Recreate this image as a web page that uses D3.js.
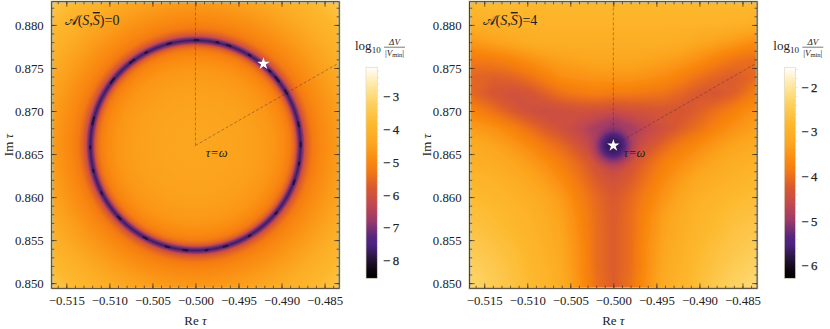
<!DOCTYPE html>
<html>
<head>
<meta charset="utf-8">
<script src="https://d3js.org/d3.v7.min.js"></script>
<style>
  body { margin: 0; background: #fff; }
  text { font-family: "Liberation Serif", "DejaVu Serif", serif; fill: #222; }
  .axis path { display: none; }
</style>
</head>
<body>
<script>
// tick labels
var reTicks = [-0.515, -0.510, -0.505, -0.500, -0.495, -0.490, -0.485];
var imTicks = [0.850, 0.855, 0.860, 0.865, 0.870, 0.875, 0.880];
var barTicksA = [-8, -7, -6, -5, -4, -3];
var barTicksB = [-6, -5, -4, -3, -2];

// colour bar, fraction -> colour
var mapStops = [0, 0.04, 0.10, 0.157, 0.195, 0.275, 0.355, 0.43, 0.51, 0.56, 0.64, 0.735, 0.83, 0.89, 0.955, 1];
var mapColors = ["#000000", "#0c0610", "#2a1640", "#4a2180", "#57257f", "#9c3a6a", "#c4494e", "#d9592f",
                 "#f47a12", "#fa8a10", "#fca61f", "#fdb92f", "#fdd160", "#ffe28f", "#fff2cc", "#ffffff"];

// left panel: value against distance from tau=omega
var ringRadius = [0, 0.004, 0.007, 0.009, 0.0103, 0.011, 0.0114, 0.0117, 0.0119, 0.0122, 0.0125, 0.0127, 0.0131, 0.0136, 0.0145, 0.0167, 0.019, 0.0215, 0.0236];
var ringValue = [-4.42, -4.45, -4.55, -4.72, -4.95, -5.2, -5.5, -6.0, -6.9, -7.7, -6.9, -6.1, -5.6, -5.25, -5.0, -4.6, -4.2, -3.85, -3.45];
// darker patches along the ring, degrees clockwise from the top
var darkArcStart = [-1, 11, 17, 30, 44, 49, 58, 77, 88, 99, 109, 129, 148, 162, 173, 184, 194, 207, 225, 242, 255, 268, 281, 306, 321, 331, 344];
var darkArcEnd = [2, 13, 20, 32, 46, 53, 61, 80, 91, 101, 112, 131, 150, 165, 175, 187, 197, 210, 228, 244, 257, 270, 286, 310, 325, 333, 347];
var darkArcValue = -8.0;

// right panel: values on a grid, x -0.518..-0.482, y 0.884..0.848, step 0.002
var gridRe = [-0.518, -0.516, -0.514, -0.512, -0.510, -0.508, -0.506, -0.504, -0.502, -0.500, -0.498, -0.496, -0.494, -0.492, -0.490, -0.488, -0.486, -0.484, -0.482];
var gridIm = [0.884, 0.882, 0.880, 0.878, 0.876, 0.874, 0.872, 0.870, 0.868, 0.866, 0.864, 0.862, 0.860, 0.858, 0.856, 0.854, 0.852, 0.850, 0.848];
var gridValues = [
  -2.70, -2.70, -2.70, -2.72, -2.72, -2.75, -2.75, -2.78, -2.80, -2.80, -2.80, -2.78, -2.75, -2.75, -2.72, -2.72, -2.70, -2.68, -2.65,
  -2.85, -2.85, -2.82, -2.82, -2.85, -2.85, -2.85, -2.85, -2.85, -2.85, -2.85, -2.85, -2.85, -2.85, -2.85, -2.85, -2.85, -2.85, -2.85,
  -3.10, -3.05, -3.00, -2.95, -2.95, -2.95, -2.95, -2.95, -2.95, -2.95, -2.95, -2.95, -2.95, -2.95, -2.95, -2.95, -3.00, -3.05, -3.10,
  -3.50, -3.40, -3.30, -3.20, -3.10, -3.05, -3.05, -3.05, -3.05, -3.05, -3.05, -3.05, -3.05, -3.10, -3.20, -3.30, -3.40, -3.55, -3.60,
  -3.85, -3.85, -3.80, -3.70, -3.55, -3.40, -3.30, -3.25, -3.20, -3.20, -3.20, -3.25, -3.30, -3.40, -3.55, -3.75, -3.90, -4.00, -4.00,
  -4.00, -4.10, -4.15, -4.10, -3.95, -3.75, -3.55, -3.50, -3.45, -3.45, -3.45, -3.50, -3.60, -3.75, -3.95, -4.10, -4.20, -4.10, -3.90,
  -3.90, -4.10, -4.30, -4.40, -4.35, -4.15, -3.95, -3.85, -3.80, -3.85, -3.85, -3.90, -3.95, -4.10, -4.25, -4.30, -4.15, -3.85, -3.70,
  -3.60, -3.75, -3.95, -4.20, -4.40, -4.50, -4.45, -4.40, -4.40, -4.50, -4.40, -4.35, -4.30, -4.30, -4.15, -3.95, -3.75, -3.55, -3.45,
  -3.30, -3.40, -3.50, -3.70, -3.95, -4.20, -4.40, -4.60, -4.90, -5.20, -4.90, -4.60, -4.40, -4.15, -3.95, -3.70, -3.50, -3.35, -3.25,
  -3.10, -3.15, -3.25, -3.40, -3.60, -3.85, -4.05, -4.35, -4.70, -5.30, -4.70, -4.35, -4.05, -3.80, -3.60, -3.40, -3.25, -3.15, -3.10,
  -3.00, -3.05, -3.10, -3.20, -3.35, -3.55, -3.80, -4.05, -4.40, -4.70, -4.40, -4.05, -3.75, -3.55, -3.35, -3.20, -3.05, -3.00, -2.95,
  -2.85, -2.90, -2.95, -3.05, -3.20, -3.35, -3.60, -3.90, -4.20, -4.40, -4.20, -3.90, -3.60, -3.35, -3.15, -3.05, -2.95, -2.85, -2.80,
  -2.75, -2.80, -2.85, -2.95, -3.05, -3.20, -3.40, -3.75, -4.05, -4.25, -4.05, -3.75, -3.45, -3.20, -3.00, -2.90, -2.80, -2.75, -2.70,
  -2.65, -2.70, -2.75, -2.85, -2.95, -3.10, -3.30, -3.65, -4.00, -4.22, -4.00, -3.65, -3.30, -3.10, -2.90, -2.80, -2.70, -2.65, -2.60,
  -2.55, -2.60, -2.70, -2.80, -2.90, -3.05, -3.25, -3.60, -4.00, -4.20, -4.00, -3.60, -3.25, -3.05, -2.85, -2.75, -2.60, -2.55, -2.50,
  -2.45, -2.50, -2.60, -2.70, -2.85, -3.00, -3.20, -3.55, -4.00, -4.20, -4.00, -3.55, -3.20, -3.00, -2.80, -2.65, -2.55, -2.45, -2.40,
  -2.35, -2.40, -2.50, -2.65, -2.80, -2.95, -3.15, -3.55, -4.00, -4.20, -4.00, -3.55, -3.15, -2.95, -2.75, -2.60, -2.45, -2.35, -2.30,
  -2.25, -2.30, -2.45, -2.60, -2.75, -2.90, -3.10, -3.50, -3.95, -4.20, -3.95, -3.50, -3.10, -2.90, -2.70, -2.50, -2.35, -2.25, -2.20,
  -2.20, -2.25, -2.40, -2.55, -2.70, -2.85, -3.05, -3.50, -3.95, -4.15, -3.95, -3.50, -3.05, -2.85, -2.65, -2.45, -2.30, -2.20, -2.15
];
// the dark well right at tau=omega in the right panel
var wellRadius = [0, 0.0008, 0.0013, 0.0018, 0.0024, 0.003];
var wellValue = [-5.75, -5.65, -5.4, -5.1, -4.85, -4.8];
var wellOpacity = [1, 1, 1, 0.9, 0.5, 0];

// markers
var omega = [-0.5, 0.866];
var dashEnds = [[-0.5, 0.8827], [-0.4833, 0.8756]];
var starA = [-0.4921, 0.8755];
var starB = [-0.5, 0.866];

var svg = d3.select("body").append("svg").attr("width", 830).attr("height", 329);
var defs = svg.append("defs");
defs.append("filter").attr("id", "soft").attr("x", "-5%").attr("y", "-5%").attr("width", "110%").attr("height", "110%")
    .append("feGaussianBlur").attr("stdDeviation", 2.2);
defs.append("filter").attr("id", "softer").append("feGaussianBlur").attr("stdDeviation", 0.6);

var colorOf = d3.scaleLinear().domain(mapStops).range(mapColors);

function drawPanel(opts) {
    var x = d3.scaleLinear().domain([-0.5167, -0.4833]).range([opts.left, opts.left + 287.5]);
    var y = d3.scaleLinear().domain([0.8827, 0.8494]).range([1.7, 288.3]);
    var v2t = d3.scaleLinear().domain(opts.barDomain).range([0, 1]);
    var color = function(v) { return colorOf(v2t(v)); };

    defs.append("clipPath").attr("id", opts.id + "clip").append("rect")
        .attr("x", x.range()[0]).attr("y", y.range()[0])
        .attr("width", x.range()[1] - x.range()[0]).attr("height", y.range()[1] - y.range()[0]);

    var g = svg.append("g");
    var plot = g.append("g").attr("clip-path", "url(#" + opts.id + "clip)");
    opts.field(plot, x, y, color);

    // dashed lines out of tau=omega
    plot.selectAll(".dash").data(dashEnds).enter().append("line")
        .attr("x1", x(omega[0])).attr("y1", y(omega[1]))
        .attr("x2", function(d) { return x(d[0]); }).attr("y2", function(d) { return y(d[1]); })
        .attr("stroke", "#4a2a2a").attr("stroke-opacity", 0.6)
        .attr("stroke-width", 0.7).attr("stroke-dasharray", "3,2");

    plot.append("path")
        .attr("d", d3.symbol(d3.symbolStar, 48)())
        .attr("transform", "translate(" + x(opts.star[0]) + "," + y(opts.star[1]) + ")")
        .attr("fill", "#fff");

    g.append("text").attr("x", x(-0.4988)).attr("y", 156.5)
        .attr("font-size", 12.5).attr("font-style", "italic").text("τ=ω");

    // label up in the corner
    var lab = g.append("text").attr("x", x.range()[0] + 13).attr("y", 25).attr("font-size", 14);
    lab.append("tspan").text("𝒜(");
    lab.append("tspan").attr("font-style", "italic").text("S");
    lab.append("tspan").text(",");
    lab.append("tspan").attr("font-style", "italic").style("text-decoration", "overline").text("S");
    lab.append("tspan").text(")=" + opts.charge);

    // frame and ticks
    var minorRe = d3.range(-516, -483).map(function(d) { return d / 1000; });
    var minorIm = d3.range(850, 883).map(function(d) { return d / 1000; });
    var fmt = d3.format(".3f");

    g.append("rect").attr("x", x.range()[0]).attr("y", y.range()[0])
        .attr("width", x.range()[1] - x.range()[0]).attr("height", y.range()[1] - y.range()[0])
        .attr("fill", "none").attr("stroke", "#d8cfa8").attr("stroke-width", 2.4);

    function ticks(axisFn, scale, minor, major, at, labels) {
        var a = g.append("g").attr("class", "axis").attr("transform", at);
        a.call(axisFn(scale).tickValues(minor).tickSize(-2.6).tickFormat(""));
        var b = g.append("g").attr("class", "axis").attr("transform", at);
        b.call(axisFn(scale).tickValues(major).tickSize(-5).tickPadding(8)
            .tickFormat(labels ? fmt : ""));
        b.selectAll("text").attr("font-size", 12.8).attr("font-family", "Liberation Serif").attr("fill", "#222");
        g.selectAll(".axis line").attr("stroke", "#3a2c1c").attr("stroke-width", 0.7);
    }
    ticks(d3.axisBottom, x, minorRe, reTicks, "translate(0," + y.range()[1] + ")", true);
    ticks(d3.axisTop, x, minorRe, reTicks, "translate(0," + y.range()[0] + ")", false);
    ticks(d3.axisLeft, y, minorIm, imTicks, "translate(" + x.range()[0] + ",0)", true);
    ticks(d3.axisRight, y, minorIm, imTicks, "translate(" + x.range()[1] + ",0)", false);

    g.append("rect").attr("x", x.range()[0]).attr("y", y.range()[0])
        .attr("width", x.range()[1] - x.range()[0]).attr("height", y.range()[1] - y.range()[0])
        .attr("fill", "none").attr("stroke", "#3a2c1c").attr("stroke-width", 0.9);

    // axis titles
    var xt = g.append("text").attr("x", x(-0.5)).attr("y", 325).attr("text-anchor", "middle").attr("font-size", 13);
    xt.append("tspan").text("Re ");
    xt.append("tspan").attr("font-style", "italic").text("τ");
    var yt = g.append("text").attr("transform", "translate(" + (opts.left - 39) + ",145) rotate(-90)")
        .attr("text-anchor", "middle").attr("font-size", 13);
    yt.append("tspan").text("Im ");
    yt.append("tspan").attr("font-style", "italic").text("τ");

    // colour bar
    var barX = opts.left + opts.barOffset;
    var barY = d3.scaleLinear().domain(opts.barDomain).range([278.3, 67.3]);
    var grad = defs.append("linearGradient").attr("id", opts.id + "bar")
        .attr("x1", 0).attr("y1", 1).attr("x2", 0).attr("y2", 0);
    grad.selectAll("stop").data(mapStops).enter().append("stop")
        .attr("offset", function(d) { return d; })
        .attr("stop-color", function(d, i) { return mapColors[i]; });
    g.append("rect").attr("x", barX).attr("y", 67.3).attr("width", 11.3).attr("height", 211)
        .attr("fill", "url(#" + opts.id + "bar)")
        .attr("stroke", "#ded9c4").attr("stroke-width", 0.7);

    var fine = d3.range(Math.ceil(opts.barDomain[0] * 5), Math.floor(opts.barDomain[1] * 5) + 1)
        .map(function(d) { return d / 5; });
    g.append("g").attr("class", "axis barfine").attr("transform", "translate(" + (barX + 11.3) + ",0)")
        .call(d3.axisRight(barY).tickValues(fine).tickSize(2).tickFormat(""))
        .selectAll("line").attr("stroke", "#e3e0d8").attr("stroke-width", 0.7);
    var bt = g.append("g").attr("class", "axis").attr("transform", "translate(" + (barX + 17) + ",0)")
        .call(d3.axisRight(barY).tickValues(opts.barTicks).tickSize(0).tickPadding(0)
            .tickFormat(d3.format("d")));
    // the minus sign goes faint at this size, so give the glyphs a hair of stroke
    bt.selectAll("text").attr("font-size", 12.8).attr("font-family", "Liberation Serif")
        .attr("fill", "#222").attr("letter-spacing", 2.5)
        .attr("stroke", "#222").attr("stroke-width", 0.25);

    // colour bar title
    var tx = barX - 11;
    var lg = g.append("text").attr("x", tx).attr("y", 50).attr("font-size", 13);
    lg.append("tspan").text("log");
    lg.append("tspan").attr("font-size", 9).attr("dy", 2.5).text("10");
    g.append("text").attr("x", tx + 39.5).attr("y", 44.5).attr("text-anchor", "middle")
        .attr("font-size", 9).attr("font-style", "italic").text("ΔV");
    g.append("line").attr("x1", tx + 29).attr("x2", tx + 50).attr("y1", 47.2).attr("y2", 47.2)
        .attr("stroke", "#222").attr("stroke-width", 0.6);
    var den = g.append("text").attr("x", tx + 39.5).attr("y", 56).attr("text-anchor", "middle")
        .attr("font-size", 9);
    den.append("tspan").text("|");
    den.append("tspan").attr("font-style", "italic").text("V");
    den.append("tspan").attr("font-size", 6.5).attr("dy", 1).text("min");
    den.append("tspan").attr("dy", -1).text("|");
}

drawPanel({
    id: "a", left: 51.7, charge: 0, star: starA,
    barDomain: [-8.54, -2.1], barTicks: barTicksA, barOffset: 314.3,
    field: function(plot, x, y, color) {
        var rMax = ringRadius[ringRadius.length - 1];
        var pxR = function(r) { return x(omega[0] + r) - x(omega[0]); };
        var grad = defs.append("radialGradient").attr("id", "ringGrad")
            .attr("gradientUnits", "userSpaceOnUse")
            .attr("cx", x(omega[0])).attr("cy", y(omega[1])).attr("r", pxR(rMax));
        grad.selectAll("stop").data(ringRadius).enter().append("stop")
            .attr("offset", function(d) { return d / rMax; })
            .attr("stop-color", function(d, i) { return color(ringValue[i]); });
        plot.append("rect").attr("x", 0).attr("y", 0).attr("width", 400).attr("height", 300)
            .attr("fill", "url(#ringGrad)");
        var arc = d3.arc().innerRadius(pxR(0.0121)).outerRadius(pxR(0.01235));
        plot.append("g").attr("transform", "translate(" + x(omega[0]) + "," + y(omega[1]) + ")")
            .attr("filter", "url(#softer)")
            .selectAll("path").data(darkArcStart).enter().append("path")
            .attr("d", function(d, i) {
                return arc({startAngle: d * Math.PI / 180, endAngle: darkArcEnd[i] * Math.PI / 180});
            })
            .attr("fill", color(darkArcValue));
    }
});

drawPanel({
    id: "b", left: 469.6, charge: 4, star: starB,
    barDomain: [-6.28, -1.56], barTicks: barTicksB, barOffset: 314.7,
    field: function(plot, x, y, color) {
        var step = gridRe[1] - gridRe[0];
        var contours = d3.contours().size([gridRe.length, gridIm.length])
            .thresholds(d3.range(-6.3, -1.5, 0.04))(gridValues);
        var path = d3.geoPath(d3.geoTransform({
            point: function(c, r) {
                this.stream.point(x(gridRe[0] + (c - 0.5) * step), y(gridIm[0] - (r - 0.5) * step));
            }
        }));
        plot.append("g").attr("filter", "url(#soft)")
            .selectAll("path").data(contours).enter().append("path")
            .attr("d", path)
            .attr("fill", function(d) { return color(d.value); });

        var rMax = wellRadius[wellRadius.length - 1];
        var pxR = function(r) { return x(omega[0] + r) - x(omega[0]); };
        var grad = defs.append("radialGradient").attr("id", "wellGrad")
            .attr("gradientUnits", "userSpaceOnUse")
            .attr("cx", x(omega[0])).attr("cy", y(omega[1])).attr("r", pxR(rMax));
        grad.selectAll("stop").data(wellRadius).enter().append("stop")
            .attr("offset", function(d) { return d / rMax; })
            .attr("stop-color", function(d, i) { return color(wellValue[i]); })
            .attr("stop-opacity", function(d, i) { return wellOpacity[i]; });
        plot.append("circle").attr("cx", x(omega[0])).attr("cy", y(omega[1])).attr("r", pxR(rMax))
            .attr("fill", "url(#wellGrad)");
    }
});
</script>
</body>
</html>
